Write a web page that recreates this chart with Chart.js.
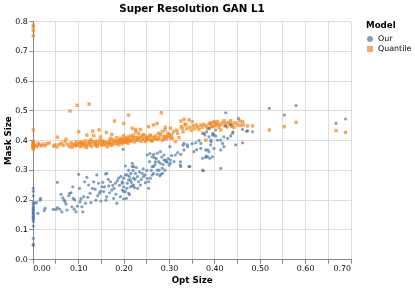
<!DOCTYPE html>
<html>
<head>
<meta charset="utf-8">
<script src="https://cdn.jsdelivr.net/npm/chart.js@4/dist/chart.umd.min.js"></script>
<style>
  body { margin: 0; background: #fff; font-family: "DejaVu Sans", sans-serif; }
  #wrap { position: relative; width: 415px; height: 289px; overflow: hidden; }
  #title { position: absolute; left: 0; top: 2px; width: 384px; text-align: center;
           font-weight: bold; font-size: 10.3px; line-height: 13px; color: #000; }
  .leg { position: absolute; line-height: 10px; color: #000; white-space: nowrap; }
  .legTitle { font-weight: bold; font-size: 8.7px; }
  .legLabel { font-size: 7.9px; }
  .sym { position: absolute; }
</style>
</head>
<body>
<div id="wrap">
  <canvas id="chart" width="415" height="289"></canvas>
  <div id="title">Super Resolution GAN L1</div>
  <div class="leg legTitle" style="left:366px; top:20px;">Model</div>
  <div class="sym" style="left:366.7px; top:35.5px; width:6.5px; height:6.5px; border-radius:50%; background:rgba(76,120,168,0.7);"></div>
  <div class="leg legLabel" style="left:378px; top:33.7px;">Our</div>
  <div class="sym" style="left:366.7px; top:45.7px; width:6.6px; height:6.6px; background:rgba(245,133,24,0.7);"></div>
  <div class="leg legLabel" style="left:378px; top:44px;">Quantile</div>
</div>
<script>
// ================= DATA =================
const seriesNames = ["Our", "Quantile"];
const xTickValues = [0, 0.1, 0.2, 0.3, 0.4, 0.5, 0.6, 0.7];
const yTickValues = [0, 0.1, 0.2, 0.3, 0.4, 0.5, 0.6, 0.7, 0.8];

// [opt size, mask size]
const ourPoints = [
  [0, 0.240], [0, 0.230], [0, 0.215], [0, 0.192], [0, 0.186], [0, 0.178], [0, 0.174],
  [0, 0.170], [0, 0.166], [0, 0.162], [0, 0.158], [0, 0.154], [0, 0.150], [0, 0.146],
  [0, 0.142], [0, 0.138], [0, 0.134], [0, 0.128], [0, 0.113], [0, 0.072], [0, 0.052],
  [0, 0.048], [0.003, 0.190], [0.007, 0.192], [0.010, 0.156], [0.015, 0.200],
  [0.016, 0.206], [0.024, 0.165], [0.026, 0.173], [0.044, 0.169], [0.050, 0.169],
  [0.053, 0.175], [0.053, 0.260], [0.058, 0.170], [0.061, 0.220], [0.063, 0.161],
  [0.065, 0.208], [0.068, 0.200], [0.070, 0.195], [0.072, 0.187], [0.074, 0.167],
  [0.078, 0.215], [0.080, 0.223], [0.083, 0.225], [0.085, 0.178], [0.087, 0.245],
  [0.088, 0.206], [0.090, 0.170], [0.091, 0.201], [0.094, 0.161], [0.097, 0.180],
  [0.100, 0.287], [0.102, 0.240], [0.103, 0.195], [0.105, 0.205], [0.107, 0.178],
  [0.109, 0.161], [0.111, 0.212], [0.113, 0.262], [0.115, 0.190], [0.118, 0.277],
  [0.120, 0.210], [0.122, 0.251], [0.125, 0.223], [0.127, 0.192], [0.130, 0.240],
  [0.133, 0.262], [0.136, 0.237], [0.138, 0.200], [0.140, 0.285], [0.142, 0.215],
  [0.144, 0.257], [0.146, 0.223], [0.148, 0.230], [0.149, 0.197], [0.151, 0.245],
  [0.153, 0.260], [0.155, 0.229], [0.157, 0.245], [0.159, 0.288], [0.160, 0.200],
  [0.162, 0.290], [0.162, 0.212], [0.165, 0.270], [0.166, 0.248], [0.168, 0.225],
  [0.170, 0.262], [0.173, 0.234], [0.175, 0.250], [0.177, 0.206], [0.178, 0.240],
  [0.181, 0.257], [0.182, 0.220], [0.184, 0.190], [0.185, 0.265], [0.188, 0.274],
  [0.190, 0.250], [0.192, 0.212], [0.193, 0.280], [0.196, 0.257], [0.196, 0.234],
  [0.196, 0.262], [0.198, 0.371], [0.199, 0.274], [0.199, 0.245], [0.199, 0.229],
  [0.199, 0.204], [0.203, 0.315], [0.203, 0.285], [0.203, 0.229], [0.205, 0.206],
  [0.206, 0.240], [0.207, 0.285], [0.207, 0.257], [0.210, 0.301], [0.210, 0.268],
  [0.210, 0.223], [0.212, 0.219], [0.212, 0.280], [0.214, 0.268], [0.214, 0.245],
  [0.215, 0.290], [0.216, 0.260], [0.218, 0.324], [0.218, 0.313], [0.218, 0.248],
  [0.220, 0.300], [0.221, 0.313], [0.221, 0.274], [0.221, 0.251], [0.223, 0.242],
  [0.224, 0.270], [0.225, 0.290], [0.227, 0.310], [0.229, 0.279], [0.230, 0.240],
  [0.232, 0.262], [0.234, 0.295], [0.236, 0.251], [0.238, 0.270], [0.240, 0.290],
  [0.242, 0.305], [0.243, 0.279], [0.246, 0.285], [0.247, 0.259], [0.250, 0.300],
  [0.251, 0.352], [0.251, 0.273], [0.254, 0.262], [0.254, 0.240], [0.256, 0.330],
  [0.257, 0.357], [0.258, 0.274], [0.260, 0.300], [0.262, 0.346], [0.262, 0.313],
  [0.262, 0.285], [0.265, 0.354], [0.265, 0.313], [0.265, 0.290], [0.267, 0.343],
  [0.268, 0.320], [0.269, 0.329], [0.271, 0.340], [0.273, 0.358], [0.273, 0.301],
  [0.273, 0.287], [0.276, 0.330], [0.277, 0.301], [0.279, 0.282], [0.280, 0.363],
  [0.280, 0.324], [0.281, 0.287], [0.283, 0.345], [0.284, 0.307], [0.285, 0.290],
  [0.286, 0.320], [0.288, 0.352], [0.288, 0.335], [0.290, 0.301], [0.291, 0.335],
  [0.293, 0.329], [0.295, 0.329], [0.297, 0.340], [0.299, 0.318], [0.301, 0.380],
  [0.302, 0.324], [0.302, 0.335], [0.305, 0.350], [0.310, 0.330], [0.313, 0.352],
  [0.318, 0.360], [0.324, 0.329], [0.324, 0.318], [0.325, 0.354], [0.325, 0.313],
  [0.330, 0.385], [0.332, 0.369], [0.332, 0.391], [0.339, 0.386], [0.340, 0.380],
  [0.343, 0.313], [0.345, 0.313], [0.350, 0.390], [0.354, 0.363], [0.358, 0.393],
  [0.360, 0.370], [0.365, 0.400], [0.369, 0.374], [0.369, 0.391], [0.373, 0.341],
  [0.373, 0.301], [0.375, 0.299], [0.376, 0.425], [0.378, 0.419], [0.380, 0.369],
  [0.380, 0.344], [0.381, 0.348], [0.382, 0.430], [0.384, 0.369], [0.384, 0.346],
  [0.387, 0.413], [0.387, 0.441], [0.387, 0.363], [0.389, 0.341], [0.391, 0.386],
  [0.391, 0.402], [0.392, 0.397], [0.395, 0.419], [0.395, 0.346], [0.396, 0.425],
  [0.398, 0.419], [0.398, 0.374], [0.402, 0.436], [0.402, 0.416], [0.406, 0.402],
  [0.413, 0.369], [0.413, 0.402], [0.413, 0.307], [0.417, 0.391], [0.420, 0.413],
  [0.420, 0.380], [0.424, 0.494], [0.424, 0.449], [0.428, 0.408], [0.435, 0.416],
  [0.435, 0.453], [0.439, 0.425], [0.440, 0.430], [0.446, 0.386], [0.452, 0.475],
  [0.461, 0.438], [0.461, 0.393], [0.470, 0.432], [0.472, 0.433], [0.483, 0.430],
  [0.520, 0.509], [0.553, 0.486], [0.579, 0.518], [0.667, 0.458], [0.688, 0.473]
];

const quantilePoints = [
  [0, 0.372], [0, 0.376], [0, 0.380], [0, 0.383], [0, 0.386], [0, 0.389], [0, 0.392],
  [0, 0.395], [0, 0.378], [0, 0.381], [0, 0.385], [0, 0.390], [0, 0.398], [0, 0.436],
  [0, 0.753], [0, 0.770], [0, 0.783], [0, 0.789],
  [0.004, 0.384], [0.008, 0.380], [0.011, 0.391], [0.014, 0.386], [0.018, 0.383],
  [0.022, 0.388], [0.026, 0.383], [0.030, 0.390], [0.035, 0.392], [0.045, 0.382],
  [0.048, 0.386], [0.052, 0.379], [0.053, 0.412], [0.057, 0.387], [0.062, 0.392],
  [0.066, 0.384], [0.070, 0.397], [0.072, 0.405], [0.075, 0.388], [0.079, 0.381],
  [0.081, 0.500], [0.083, 0.393], [0.085, 0.378], [0.086, 0.386], [0.090, 0.390],
  [0.092, 0.383], [0.095, 0.396], [0.095, 0.384], [0.097, 0.519], [0.098, 0.387],
  [0.100, 0.430], [0.102, 0.392], [0.104, 0.380], [0.105, 0.397], [0.106, 0.390],
  [0.108, 0.386], [0.110, 0.392], [0.112, 0.382], [0.114, 0.399], [0.116, 0.389],
  [0.117, 0.377], [0.118, 0.419], [0.120, 0.385], [0.122, 0.398], [0.123, 0.523],
  [0.124, 0.394], [0.126, 0.388], [0.127, 0.403], [0.128, 0.381], [0.130, 0.396],
  [0.131, 0.432], [0.133, 0.417], [0.135, 0.390], [0.136, 0.396], [0.137, 0.384],
  [0.140, 0.398], [0.141, 0.381], [0.142, 0.388], [0.145, 0.436], [0.146, 0.393],
  [0.147, 0.402], [0.148, 0.413], [0.150, 0.385], [0.152, 0.399], [0.153, 0.388],
  [0.155, 0.391], [0.157, 0.397], [0.158, 0.386], [0.161, 0.428], [0.162, 0.395],
  [0.163, 0.380], [0.165, 0.389], [0.167, 0.392], [0.168, 0.401], [0.170, 0.408],
  [0.171, 0.385], [0.172, 0.393], [0.173, 0.421], [0.175, 0.387], [0.176, 0.404],
  [0.178, 0.397], [0.179, 0.466], [0.181, 0.391], [0.182, 0.398], [0.184, 0.410],
  [0.186, 0.399], [0.187, 0.386], [0.188, 0.393], [0.190, 0.402], [0.192, 0.408],
  [0.193, 0.396], [0.195, 0.389], [0.196, 0.398], [0.197, 0.405], [0.199, 0.417],
  [0.199, 0.458], [0.200, 0.394], [0.200, 0.404], [0.202, 0.410], [0.204, 0.398],
  [0.205, 0.395], [0.207, 0.402], [0.207, 0.408], [0.209, 0.391], [0.210, 0.486],
  [0.210, 0.413], [0.211, 0.406], [0.212, 0.400], [0.215, 0.416], [0.216, 0.398],
  [0.218, 0.442], [0.219, 0.405], [0.220, 0.410], [0.221, 0.419], [0.223, 0.396],
  [0.225, 0.438], [0.226, 0.410], [0.226, 0.430], [0.228, 0.402], [0.230, 0.408],
  [0.232, 0.425], [0.232, 0.402], [0.234, 0.412], [0.236, 0.438], [0.238, 0.398],
  [0.240, 0.417], [0.240, 0.407], [0.243, 0.421], [0.245, 0.405], [0.247, 0.397],
  [0.248, 0.415], [0.250, 0.410], [0.252, 0.403], [0.254, 0.447], [0.255, 0.405],
  [0.256, 0.415], [0.258, 0.419], [0.260, 0.401], [0.262, 0.399], [0.263, 0.412],
  [0.265, 0.453], [0.267, 0.408], [0.270, 0.416], [0.270, 0.405], [0.273, 0.458],
  [0.275, 0.404], [0.276, 0.425], [0.277, 0.410], [0.280, 0.420], [0.282, 0.494],
  [0.284, 0.430], [0.284, 0.402], [0.287, 0.414], [0.288, 0.405], [0.290, 0.436],
  [0.291, 0.445], [0.291, 0.413], [0.294, 0.407], [0.296, 0.415], [0.297, 0.425],
  [0.299, 0.419], [0.302, 0.442], [0.303, 0.410], [0.305, 0.420], [0.306, 0.408],
  [0.309, 0.430], [0.313, 0.397], [0.316, 0.435], [0.318, 0.425], [0.321, 0.410],
  [0.325, 0.466], [0.326, 0.447], [0.328, 0.442], [0.330, 0.430], [0.332, 0.472],
  [0.334, 0.456], [0.336, 0.453], [0.338, 0.440], [0.343, 0.470], [0.345, 0.445],
  [0.348, 0.435], [0.350, 0.464], [0.352, 0.450], [0.355, 0.440], [0.359, 0.453],
  [0.362, 0.446], [0.365, 0.438], [0.369, 0.453], [0.372, 0.445], [0.373, 0.425],
  [0.376, 0.455], [0.380, 0.450], [0.380, 0.402], [0.383, 0.442], [0.387, 0.442],
  [0.387, 0.456], [0.390, 0.460], [0.391, 0.458], [0.393, 0.448], [0.395, 0.447],
  [0.398, 0.464], [0.399, 0.461], [0.400, 0.450], [0.403, 0.455], [0.406, 0.464],
  [0.407, 0.455], [0.409, 0.445], [0.413, 0.453], [0.413, 0.436], [0.416, 0.460],
  [0.420, 0.467], [0.422, 0.450], [0.424, 0.458], [0.427, 0.446], [0.430, 0.462],
  [0.433, 0.455], [0.435, 0.467], [0.437, 0.448], [0.439, 0.456], [0.442, 0.445],
  [0.445, 0.460], [0.450, 0.453], [0.454, 0.467], [0.457, 0.452], [0.461, 0.464],
  [0.463, 0.453], [0.472, 0.450], [0.483, 0.450], [0.520, 0.436], [0.553, 0.447],
  [0.579, 0.462], [0.667, 0.434], [0.688, 0.428]
];

// ================= CHART =================
const FONT = "DejaVu Sans";
const toXY = (pts) => pts.map((p) => ({ x: p[0], y: p[1] }));

new Chart(document.getElementById("chart"), {
  type: "scatter",
  data: {
    datasets: [
      {
        label: seriesNames[0],
        data: toXY(ourPoints),
        backgroundColor: "rgba(76,120,168,0.7)",
        borderWidth: 0,
        pointRadius: 1.6,
        pointStyle: "circle",
        clip: false,
      },
      {
        label: seriesNames[1],
        data: toXY(quantilePoints),
        backgroundColor: "rgba(245,133,24,0.7)",
        borderWidth: 0,
        pointRadius: 2.4,
        pointStyle: "rect",
        clip: false,
      },
    ],
  },
  options: {
    responsive: false,
    animation: false,
    devicePixelRatio: 1,
    layout: { padding: { left: 0, top: 21.7, right: 64, bottom: 0 } },
    plugins: { legend: { display: false }, tooltip: { enabled: false } },
    scales: {
      x: {
        type: "linear",
        min: xTickValues[0],
        max: xTickValues[xTickValues.length - 1],
        afterFit: (s) => { s.height = 29.3; },
        ticks: {
          stepSize: 0.05,
          autoSkip: false,
          maxRotation: 0,
          align: "inner",
          padding: 0.5,
          color: "#000",
          font: { family: FONT, size: 7.9 },
          callback: (v) => {
            const hit = xTickValues.find((t) => Math.abs(t - v) < 1e-6);
            return hit === undefined ? "" : hit.toFixed(2);
          },
        },
        grid: { color: "#ddd", tickColor: "#888", tickLength: 4 },
        border: { color: "#888" },
        title: {
          display: true,
          text: "Opt Size",
          color: "#000",
          font: { family: FONT, size: 8.7, weight: "bold" },
          padding: { top: 0, bottom: 2.8 },
        },
      },
      y: {
        min: yTickValues[0],
        max: yTickValues[yTickValues.length - 1],
        afterFit: (s) => { s.width = 33.3; },
        ticks: {
          stepSize: 0.1,
          padding: 1.6,
          color: "#000",
          font: { family: FONT, size: 7.9 },
          callback: (v) => v.toFixed(1),
        },
        grid: { color: "#ddd", tickColor: "#888", tickLength: 4 },
        border: { color: "#888" },
        title: {
          display: true,
          text: "Mask Size",
          color: "#000",
          font: { family: FONT, size: 8.7, weight: "bold" },
          padding: { top: 3.8, bottom: 0 },
        },
      },
    },
  },
});
</script>
</body>
</html>
